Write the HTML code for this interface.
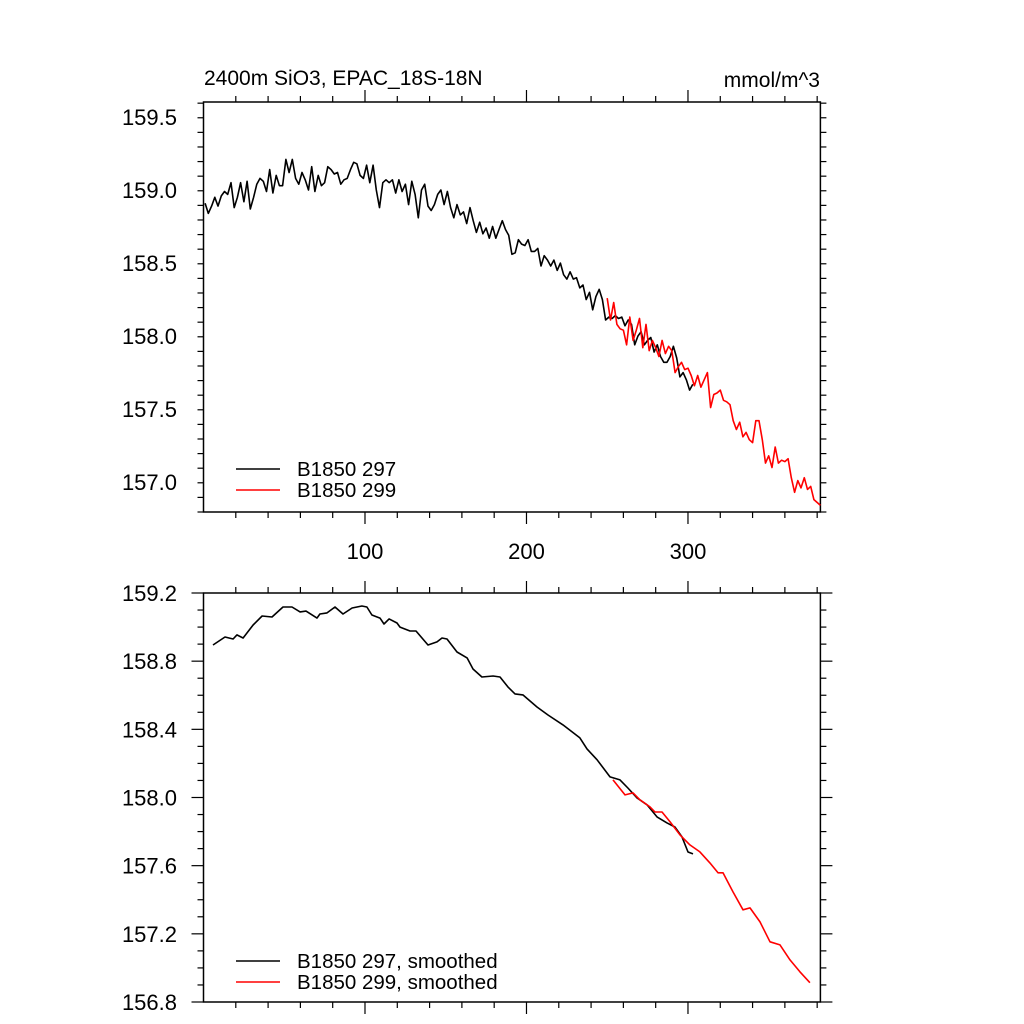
<!DOCTYPE html>
<html><head><meta charset="utf-8"><style>
body{margin:0;background:#fff}
svg{display:block;font-family:"Liberation Sans",sans-serif}
</style></head><body>
<svg id="chart" width="1024" height="1024" viewBox="0 0 1024 1024" xmlns="http://www.w3.org/2000/svg">
<text x="204" y="85" font-size="21">2400m SiO3, EPAC_18S-18N</text>
<text x="820" y="87" font-size="21" text-anchor="end">mmol/m^3</text>
<g id="top"></g>
<g id="bot"></g>
</svg>
<script>
const xTickLabels=[100,200,300];
const topYTicks=[157.0,157.5,158.0,158.5,159.0,159.5];
const botYTicks=[156.8,157.2,157.6,158.0,158.4,158.8,159.2];
const raw297Years=[];for(let y=1;y<=303;y+=2)raw297Years.push(y);
const raw297=[158.91,158.84,158.89,158.95,158.89,158.96,158.99,158.97,159.05,158.88,158.95,159.05,158.92,159.06,158.87,158.95,159.04,159.08,159.06,158.99,159.14,158.98,159.10,159.03,159.03,159.21,159.12,159.21,159.08,159.04,159.12,159.07,159.00,159.16,158.99,159.10,159.03,159.05,159.16,159.14,159.11,159.12,159.04,159.07,159.08,159.14,159.19,159.18,159.10,159.08,159.17,159.05,159.17,159.00,158.88,159.05,159.07,159.05,159.07,158.98,159.07,158.99,159.04,158.90,159.06,158.97,158.81,159.00,159.04,158.89,158.86,158.90,158.97,159.00,158.90,158.99,158.88,158.81,158.90,158.83,158.85,158.77,158.88,158.79,158.71,158.78,158.70,158.74,158.67,158.75,158.67,158.73,158.79,158.73,158.69,158.56,158.57,158.66,158.63,158.62,158.66,158.58,158.58,158.60,158.48,158.55,158.52,158.48,158.52,158.45,158.50,158.42,158.39,158.44,158.39,158.40,158.33,158.35,158.25,158.30,158.18,158.27,158.32,158.25,158.11,158.13,158.12,158.14,158.12,158.13,158.07,158.11,158.08,157.94,158.00,158.03,157.94,157.97,157.99,157.89,157.94,157.86,157.82,157.82,157.86,157.93,157.85,157.72,157.75,157.70,157.63,157.67];
const raw299Years=[];for(let y=250;y<=382;y+=2)raw299Years.push(y);
const raw299=[158.26,158.11,158.23,158.08,158.05,158.04,157.94,158.13,157.97,158.04,158.12,157.92,158.08,157.90,157.97,157.92,157.86,157.97,157.88,157.93,157.90,157.75,157.79,157.82,157.77,157.78,157.73,157.66,157.73,157.65,157.70,157.75,157.51,157.60,157.61,157.63,157.56,157.55,157.53,157.42,157.36,157.41,157.31,157.34,157.29,157.27,157.42,157.42,157.29,157.13,157.18,157.10,157.24,157.13,157.15,157.14,157.16,157.03,156.93,157.01,156.96,157.03,156.95,156.97,156.88,156.86,156.84];
const sm297Years=[5.9,13.3,18.3,20.7,24.5,30.7,36.3,42.4,49.2,54.8,59.8,63.5,70.3,72.1,76.5,81.4,86.4,92.0,98.1,101.2,104.3,109.3,111.8,114.9,119.8,121.7,127.9,131.6,139.0,144.6,147.7,150.8,157.0,163.2,166.9,172.4,179.3,183.6,188.5,192.9,197.8,206.5,213.3,222.6,233.1,237.5,243.7,251.7,257.9,262.8,268.4,274.6,280.8,287.0,291.9,296.3,300.0,303.1];
const sm297=[158.895,158.942,158.93,158.954,158.936,159.012,159.065,159.059,159.118,159.118,159.089,159.094,159.053,159.077,159.083,159.118,159.077,159.112,159.124,159.118,159.071,159.053,159.018,159.048,159.024,159.0,158.977,158.977,158.895,158.913,158.936,158.93,158.854,158.819,158.754,158.707,158.713,158.707,158.649,158.608,158.602,158.531,158.484,158.426,158.35,158.285,158.221,158.121,158.103,158.056,157.998,157.957,157.886,157.851,157.827,157.769,157.68,157.669];
const sm299Years=[253.6,261.0,266.0,270.3,276.5,279.6,283.9,288.9,295.0,301.2,307.4,313.6,318.6,321.7,327.9,334.1,338.4,344.6,350.8,357.0,363.2,369.3,375.5];
const sm299=[158.103,158.015,158.027,157.986,157.945,157.915,157.915,157.857,157.781,157.722,157.681,157.616,157.558,157.558,157.446,157.341,157.352,157.27,157.153,157.135,157.047,156.977,156.913];

const NS='http://www.w3.org/2000/svg';
const X0=203.5,X1=820.4,XMIN=0,XMAX=382;
const xs=v=>X0+(v-XMIN)/(XMAX-XMIN)*(X1-X0);
function mk(t,a,p){const e=document.createElementNS(NS,t);for(const k in a)e.setAttribute(k,a[k]);p.appendChild(e);return e;}
function panel(g,top,bot,ymin,ymax,yTicks,minorStep,labelsX){
  const ys=v=>bot-(v-ymin)/(ymax-ymin)*(bot-top);
  const box=mk('rect',{x:X0,y:top,width:X1-X0,height:bot-top,fill:'none',stroke:'#000','stroke-width':1.5},g);
  
  
  for(let v=20;v<XMAX;v+=20){
    const maj=v%100===0,L=maj?12:6,x=xs(v);
    mk('line',{x1:x,x2:x,y1:bot,y2:bot+L,stroke:'#000','stroke-width':1.2},g);
    mk('line',{x1:x,x2:x,y1:top,y2:top-L,stroke:'#000','stroke-width':1.2},g);
  }
  if(labelsX){xTickLabels.forEach(v=>{const t=mk('text',{x:xs(v),y:bot+47,'font-size':22,'text-anchor':'middle'},g);t.textContent=v;
    
    });}
  const n=Math.round((ymax-ymin)/minorStep);
  for(let i=0;i<=n;i++){
    const v=ymin+i*minorStep;if(v<ymin-1e-9||v>ymax+1e-9)continue;
    const maj=yTicks.some(t=>Math.abs(t-v)<1e-6),L=maj?12:6,y=ys(v);
    mk('line',{x1:X0,x2:X0-L,y1:y,y2:y,stroke:'#000','stroke-width':1.2},g);
    mk('line',{x1:X1,x2:X1+L,y1:y,y2:y,stroke:'#000','stroke-width':1.2},g);
  }
  yTicks.forEach(v=>{const t=mk('text',{x:177,y:ys(v)+8,'font-size':22,'text-anchor':'end'},g);t.textContent=v.toFixed(1);
    
    });
  return ys;
}
function line(g,ys,xv,yv,col,name){
  const d=xv.map((x,i)=>(i?'L':'M')+xs(x).toFixed(1)+','+ys(yv[i]).toFixed(1)).join('');
  const p=mk('path',{d:d,fill:'none',stroke:col,'stroke-width':1.6,'stroke-linejoin':'round'},g);
  
  
}
function legend(g,y,label,col,name){
  const l=mk('line',{x1:236,x2:280,y1:y,y2:y,stroke:col,'stroke-width':1.5},g);
  
  
  const t=mk('text',{x:297,y:y+7,'font-size':20.5},g);t.textContent=label;
  
  
}
const gt=document.getElementById('top'),gb=document.getElementById('bot');
const yt=panel(gt,102,512,156.795,159.603,topYTicks,0.1,true);
line(gt,yt,raw297Years,raw297,'#000','series-b1850-297');
line(gt,yt,raw299Years,raw299,'#f00','series-b1850-299');
legend(gt,469,'B1850 297','#000','legend-b1850-297');
legend(gt,490,'B1850 299','#f00','legend-b1850-299');
const yb=panel(gb,593,1002,156.8,159.2,botYTicks,0.1,false);
line(gb,yb,sm297Years,sm297,'#000','series-b1850-297-smoothed');
line(gb,yb,sm299Years,sm299,'#f00','series-b1850-299-smoothed');
legend(gb,961,'B1850 297, smoothed','#000','legend-b1850-297-smoothed');
legend(gb,982,'B1850 299, smoothed','#f00','legend-b1850-299-smoothed');
</script>
</body></html>
